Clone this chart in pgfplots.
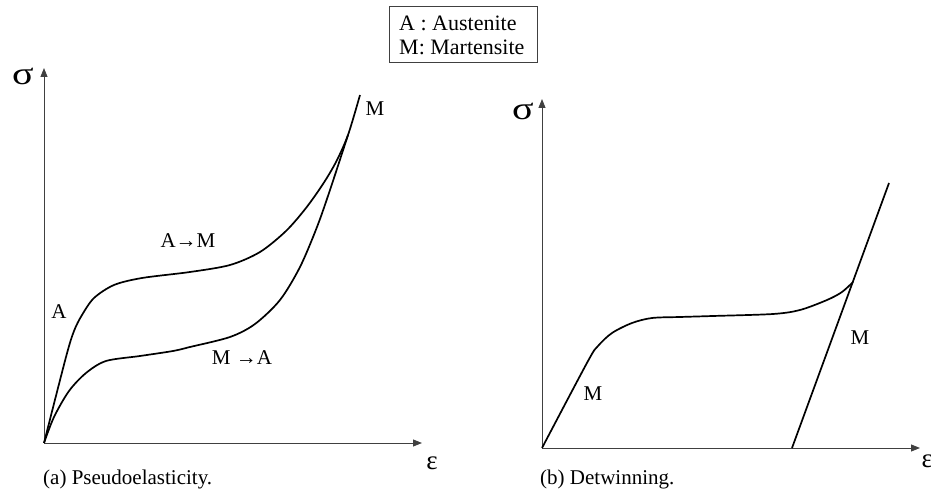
\documentclass[border=0pt]{standalone}
\usepackage{fontspec}
\setmainfont{Liberation Serif}
\usepackage{pgfplots}
\pgfplotsset{compat=1.18}
\usetikzlibrary{arrows.meta}

\pgfplotsset{
  sketch/.style={
    x=1pt, y=1pt,
    xmin=0, ymin=0, xmax=378,
    anchor=south west,
    axis lines=left,
    axis line style={draw=black!75, line width=0.9pt,
      -{Triangle[length=9pt,width=7pt]}},
    xtick=\empty, ytick=\empty,
    clip=false,
  },
  curve/.style={black, line width=1.7pt, smooth, no marks},
}

\newcommand\lbl{\fontsize{21}{24}\selectfont}
\newcommand\sym{\fontsize{32}{34}\selectfont}

\begin{document}
\begin{tikzpicture}
\useasboundingbox (0,0) rectangle (931pt,492pt);

% (a) pseudoelastic loop
\begin{axis}[sketch, at={(44pt,49pt)}, ymax=375]
  % loading: A -> M
  \addplot[curve] coordinates {
    (0,0) (22,86) (30,112) (38,128) (50,145) (70,158) (98,165)
    (146,171) (186,178) (216,191) (242,212) (262,235) (279,259)
    (292,281) (304,308) (316,348)};
  % unloading: M -> A
  \addplot[curve] coordinates {
    (304,308) (286,253) (273,216) (256,176) (236,143) (211,119)
    (186,106) (146,96) (129,92) (96,87) (62,82) (42,70) (25,52)
    (10,26) (0,0)};
\end{axis}

% (b) detwinning
\begin{axis}[sketch, at={(542pt,44pt)}, ymax=349]
  \addplot[curve] coordinates {
    (0,0) (46,87) (56,102) (70,115) (90,125) (110,130) (138,131)
    (171,132) (231,134) (258,138) (285,148) (300,156) (311,166)};
  \addplot[black, line width=1.7pt, no marks] coordinates {
    (250,0) (347,265)};
\end{axis}

% axis symbols
\node[font=\sym, xscale=1.25] at (23pt,416pt) {σ};
\node[font=\fontsize{27}{30}\selectfont] at (432pt,29pt) {ε};
\node[font=\sym, xscale=1.25] at (523pt,381pt) {σ};
\node[font=\fontsize{27}{30}\selectfont, anchor=west] at (918pt,31pt) {ε};

% curve labels
\node[font=\lbl] at (59pt,180pt) {A};
\node[font=\lbl] at (188pt,251pt) {A→M};
\node[font=\lbl] at (242pt,134pt) {M →A};
\node[font=\lbl] at (375pt,383pt) {M};
\node[font=\lbl] at (593pt,98pt) {M};
\node[font=\lbl] at (860pt,154pt) {M};

% captions
\node[font=\lbl, anchor=base west, inner sep=0pt] at (43pt,7pt) {(a) Pseudoelasticity.};
\node[font=\lbl, anchor=base west, inner sep=0pt] at (540pt,7pt) {(b) Detwinning.};

% key
\draw[black!75, line width=0.9pt] (389pt,430pt) rectangle (537pt,486pt);
\node[font=\fontsize{22}{24}\selectfont, anchor=base west, inner sep=0pt] at (399pt,461pt) {A : Austenite};
\node[font=\fontsize{22}{24}\selectfont, anchor=base west, inner sep=0pt] at (399pt,437pt) {M: Martensite};
\end{tikzpicture}
\end{document}
